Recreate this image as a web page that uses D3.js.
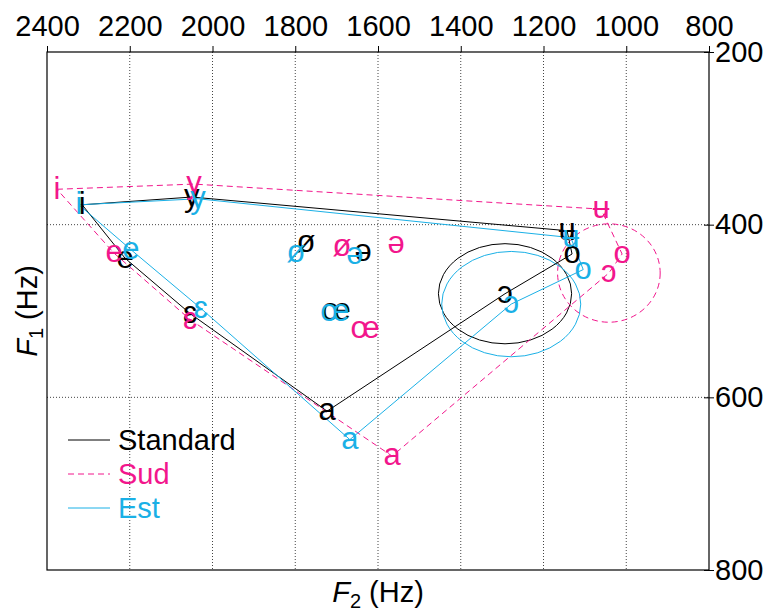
<!DOCTYPE html>
<html><head><meta charset="utf-8">
<script src="https://cdn.jsdelivr.net/npm/d3@7"></script>
<style>
body{margin:0;background:#fff;}
text{font-family:"Liberation Sans","DejaVu Sans",Arial,sans-serif;}
</style></head>
<body><svg id="c" width="768" height="616"></svg>
<script>
const vowels = ["i","y","ʉ","o","ɔ","a","ɛ","e","ø","ə","œ"];
const polygonOrder = [0,1,2,3,4,5,6,7,0];
const standardF2 = [2315, 2050, 1143, 1131, 1293, 1723, 2054, 2211, 1774, 1636, 1701];
const standardF1 = [377, 368, 407, 434, 480, 616, 503, 439, 421, 431, 500];
const sudF2 = [2376, 2045, 1061, 1010, 1042, 1566, 2054, 2238, 1687, 1556, 1631];
const sudF1 = [359, 353, 382, 434, 456, 668, 510, 433, 425, 422, 520];
const estF2 = [2323, 2035, 1134, 1104, 1278, 1668, 2028, 2197, 1798, 1656, 1704];
const estF1 = [377, 370, 415, 452, 492, 649, 497, 429, 432, 435, 501];
const seriesNames = ["Standard","Sud","Est"];
const ellipseRF2 = [161, 124, 168];
const ellipseRF1 = [58, 57, 61];
const xTicks = [2400,2200,2000,1800,1600,1400,1200,1000,800];
const yTicks = [200,400,600,800];

const colors = ["#000000","#f2168c","#1ab0e6"];
const dashes = [null,"6,4",null];
const F2s = [standardF2, sudF2, estF2];
const F1s = [standardF1, sudF1, estF1];

const svg = d3.select("#c");
const L=47, R=709, T=52, B=570;
const x = d3.scaleLinear().domain([2400,800]).range([L,R]);
const y = d3.scaleLinear().domain([200,800]).range([T,B]);

// grid
const g = svg.append("g");
g.selectAll("line.gx").data(xTicks.slice(1,-1)).enter().append("line")
 .attr("x1",d=>x(d)).attr("x2",d=>x(d)).attr("y1",T).attr("y2",B)
 .attr("stroke","#444").attr("stroke-width",1).attr("stroke-dasharray","1,2");
g.selectAll("line.gy").data(yTicks.slice(1,-1)).enter().append("line")
 .attr("x1",L).attr("x2",R).attr("y1",d=>y(d)).attr("y2",d=>y(d))
 .attr("stroke","#444").attr("stroke-width",1).attr("stroke-dasharray","1,2");

// frame
svg.append("rect").attr("x",L).attr("y",T).attr("width",R-L).attr("height",B-T)
 .attr("fill","none").attr("stroke","#000").attr("stroke-width",1.2);

// axes
const ax = svg.append("g").attr("transform",`translate(0,${T})`)
 .call(d3.axisTop(x).tickValues(xTicks).tickSize(6).tickPadding(10).tickFormat(d3.format("d")));
ax.select(".domain").remove();
ax.selectAll("text").attr("font-size",29).attr("fill","#000");
const ay = svg.append("g").attr("transform",`translate(${R},0)`)
 .call(d3.axisRight(y).tickValues(yTicks).tickSize(5).tickPadding(1).tickFormat(d3.format("d")));
ay.select(".domain").remove();
ay.selectAll(".tick line").attr("x1",-5);
ay.selectAll("text").attr("font-size",29).attr("fill","#000");

// ellipses
for(let s=0;s<3;s++){
  const cx=F2s[s][4], cy=F1s[s][4];
  svg.append("ellipse").attr("cx",x(cx)).attr("cy",y(cy))
   .attr("rx",Math.abs(x(cx+ellipseRF2[s])-x(cx))).attr("ry",Math.abs(y(cy+ellipseRF1[s])-y(cy)))
   .attr("fill","none").attr("stroke",colors[s]).attr("stroke-width",1)
   .attr("stroke-dasharray",dashes[s]);
}
// polygons
const line = d3.line().x(d=>x(d[0])).y(d=>y(d[1]));
for(let s=0;s<3;s++){
  const pts = polygonOrder.map(i=>[F2s[s][i],F1s[s][i]]);
  svg.append("path").attr("d",line(pts)).attr("fill","none")
   .attr("stroke",colors[s]).attr("stroke-width",1).attr("stroke-dasharray",dashes[s]);
}
// labels
for(let s=0;s<3;s++){
  svg.append("g").selectAll("text").data(vowels).enter().append("text")
   .attr("x",(d,i)=>x(F2s[s][i])).attr("y",(d,i)=>y(F1s[s][i]))
   .attr("dy","0.3em").attr("text-anchor","middle").attr("font-size",31)
   .attr("fill",colors[s]).text(d=>d);
}
// legend
const lg = svg.append("g");
seriesNames.forEach((n,i)=>{
  const yy = 440 + i*34;
  lg.append("line").attr("x1",68).attr("x2",110).attr("y1",yy).attr("y2",yy)
   .attr("stroke",colors[i]).attr("stroke-width",1).attr("stroke-dasharray",dashes[i]);
  lg.append("text").attr("x",118).attr("y",yy+10).attr("font-size",29).attr("fill",colors[i]).text(n);
});
// axis titles
const xt = svg.append("text").attr("x",(L+R)/2).attr("y",602).attr("text-anchor","middle").attr("font-size",29);
xt.append("tspan").attr("font-style","italic").text("F");
xt.append("tspan").attr("font-size",20).attr("dy",6).text("2");
xt.append("tspan").attr("dy",-6).text(" (Hz)");
const yt = svg.append("text").attr("transform",`translate(37,${(T+B)/2}) rotate(-90)`).attr("text-anchor","middle").attr("font-size",29);
yt.append("tspan").attr("font-style","italic").text("F");
yt.append("tspan").attr("font-size",20).attr("dy",6).text("1");
yt.append("tspan").attr("dy",-6).text(" (Hz)");
</script></body></html>
